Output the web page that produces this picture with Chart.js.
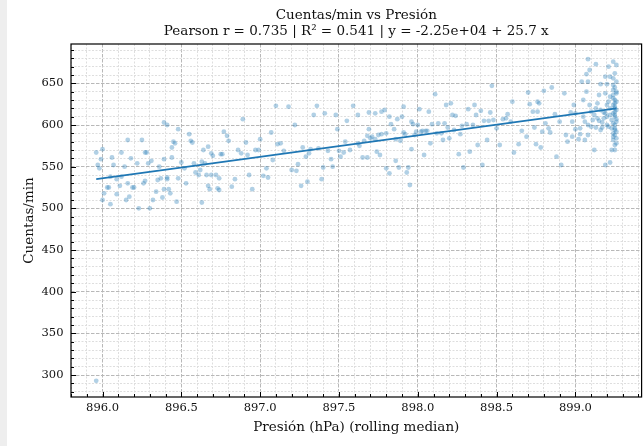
<!DOCTYPE html>
<html>
<head>
<meta charset="utf-8">
<script src="https://cdn.jsdelivr.net/npm/chart.js@4.4.1/dist/chart.umd.min.js"></script>
<style>
  html, body { margin: 0; padding: 0; background: #eeeeee; }
  #wrap { position: absolute; left: 7px; top: 0; width: 637px; height: 446px; background: #ffffff; }
</style>
</head>
<body>
<div id="wrap"><canvas id="scatterChart"></canvas></div>
<script>
// Presión (hPa, rolling median) vs Cuentas/min
const presion = [
  895.96, 895.99, 896.00, 895.97, 895.98, 896.00, 896.01, 896.03, 896.04, 896.05, 896.06, 896.05, 896.07, 896.09, 896.09, 896.11, 896.12, 896.14, 896.12, 896.15,
  896.16, 896.17, 896.16, 896.18, 896.19, 896.20, 896.22, 896.23, 896.25, 896.26, 896.27, 896.27, 896.28, 896.29, 896.31, 896.30, 896.32, 896.34, 896.35, 896.36,
  896.37, 896.39, 896.38, 896.39, 896.41, 896.39, 896.41, 896.41, 896.42, 896.43, 896.44, 896.44, 896.45, 896.46, 896.47, 896.48, 896.48, 896.50, 896.52, 896.53,
  896.55, 896.56, 896.57, 896.58, 896.59, 896.61, 896.62, 896.63, 896.64, 896.63, 896.65, 896.66, 896.67, 896.67, 896.68, 896.69, 896.70, 896.69, 896.72, 896.74,
  896.75, 896.73, 896.77, 896.74, 896.76, 896.79, 896.80, 896.82, 896.84, 896.86, 896.88, 896.89, 896.91, 896.92, 896.93, 896.95, 896.97, 896.99, 897.00,
  897.02, 897.04, 897.05, 897.07, 897.08, 897.10, 897.11, 897.13, 897.15, 897.18, 897.20, 897.22, 897.23, 897.24, 897.26, 897.27, 897.29, 897.30, 897.31, 897.32,
  897.34, 897.36, 897.37, 897.39, 897.40, 897.41, 897.43, 897.45, 897.46, 897.48, 897.49, 897.50, 897.51, 897.53, 897.54, 897.55, 897.57, 897.59, 897.62, 897.62,
  897.63, 897.65, 897.66, 897.68, 897.68, 897.69, 897.69, 897.70, 897.71, 897.73, 897.73, 897.74, 897.75, 897.76, 897.77, 897.77, 897.79, 897.80, 897.80, 897.82,
  897.82, 897.83, 897.85, 897.86, 897.86, 897.87, 897.88, 897.89, 897.90, 897.91, 897.91, 897.92, 897.93, 897.94, 897.95, 897.96, 897.96, 897.97, 897.98, 897.99,
  898.00, 898.01, 898.02, 898.03, 898.04, 898.05, 898.06, 898.07, 898.08, 898.09, 898.11, 898.12, 898.13, 898.15, 898.16, 898.17, 898.18, 898.19, 898.20, 898.21,
  898.22, 898.23, 898.24, 898.26, 898.27, 898.28, 898.29, 898.31, 898.32, 898.33, 898.35, 898.36, 898.37, 898.38, 898.40, 898.41, 898.42, 898.44, 898.45, 898.46, 898.47, 898.48,
  898.50, 898.52, 898.54, 898.56, 898.57, 898.59, 898.60, 898.61, 898.64, 898.66, 898.69, 898.70, 898.71, 898.73, 898.74, 898.75, 898.76, 898.76, 898.77, 898.78,
  898.79, 898.80, 898.81, 898.83, 898.84, 898.85, 898.87, 898.88, 898.90, 898.91, 898.93, 898.94, 898.95, 898.97, 898.98, 898.99, 899.00, 899.02, 899.03, 899.03,
  899.04, 899.05, 899.06, 899.06, 899.07, 899.07, 899.08, 899.08, 899.09, 899.08, 899.09, 899.10, 899.11, 899.12, 899.13, 899.13, 899.14, 899.15, 899.15, 899.16,
  899.16, 899.17, 899.18, 899.19, 899.19, 899.19, 899.20, 899.20, 899.20, 899.21, 899.21, 899.22, 899.22, 899.22, 899.22, 899.23, 899.23, 899.24, 899.24, 899.24,
  899.24, 899.24, 899.24, 899.25, 899.25, 899.25, 899.25, 899.25, 899.25, 899.25, 899.25, 899.26, 899.26, 899.26, 899.26,
  899.25, 899.25, 899.26, 899.24, 899.26, 899.25, 899.24, 899.26, 899.25, 899.24, 899.26, 899.25, 899.24, 899.26, 899.25, 899.24, 899.26, 899.25, 899.26, 899.24,
  899.12, 899.14, 899.17, 899.16, 899.18, 899.20, 899.19, 899.10, 899.05, 899.00, 898.98, 899.08, 899.13, 899.21, 899.23, 899.22,
  895.96
];
const cuentas = [
  567, 559, 571, 552, 548, 510, 518, 525, 525, 505, 561, 538, 552, 535, 517, 527, 567, 550, 538, 510,
  582, 514, 530, 560, 525, 525, 554, 500, 582, 530, 533, 567, 567, 554, 557, 500, 510, 520, 534, 550,
  536, 559, 513, 603, 600, 523, 537, 535, 523, 518, 561, 573, 580, 578, 508, 536, 595, 555, 548, 530,
  589, 581, 579, 554, 543, 540, 546, 507, 570, 556, 554, 540, 574, 527, 523, 566, 563, 540, 540, 536,
  565, 524, 592, 522, 565, 587, 581, 526, 535, 570, 566, 607, 579, 564, 540, 523, 570, 570, 583,
  539, 548, 537, 591, 558, 623, 577, 578, 569, 622, 546, 600, 545, 553, 527, 573, 562, 532, 566, 571,
  612, 623, 572, 535, 549, 614, 569, 559, 550, 612, 595, 569, 562, 567, 580, 605, 570, 623, 612, 578,
  575, 561, 581, 561, 587, 615, 595, 584, 586, 614, 583, 568, 588, 564, 616, 589, 618, 590, 548, 610,
  542, 601, 595, 583, 557, 607, 549, 581, 610, 591, 622, 589, 543, 549, 528, 571, 604, 601, 588, 592,
  600, 619, 592, 593, 564, 593, 593, 616, 578, 601, 637, 590, 602, 590, 582, 602, 624, 597, 584, 626,
  612, 594, 611, 565, 589, 599, 549, 601, 619, 568, 600, 624, 612, 576, 617, 552, 605, 582, 605, 615, 647, 606,
  596, 576, 607, 608, 613, 604, 628, 567, 577, 593, 586, 639, 625, 616, 597, 577, 616, 628, 626, 573,
  592, 641, 602, 596, 591, 645, 613, 562, 604, 552, 638, 588, 580, 615, 586, 624, 595, 583, 589, 596,
  652, 630, 582, 604, 640, 661, 679, 652, 666, 588, 624, 616, 606, 570, 673, 597, 626, 636, 605, 618,
  649, 597, 615, 658, 638, 552, 624, 610, 649, 670, 598, 634, 555, 620, 658, 570, 606, 586, 582, 676,
  642, 648, 632, 622, 616, 600, 594, 662, 610, 626, 588, 638, 578, 672, 604,
  570, 576, 584, 590, 592, 596, 602, 607, 612, 614, 618, 620, 624, 628, 630, 636, 640, 645, 652, 656,
  612, 608, 603, 594, 608, 600, 614, 598, 610, 614, 604, 600, 620, 628, 596, 612,
  293
];

// regression line (y = -2.25e+04 + 25.7 x) over the data range
const ajusteX = [895.96, 899.26];
const ajusteY = [535, 620];

const xTicks = [896.0, 896.5, 897.0, 897.5, 898.0, 898.5, 899.0];
const yTicks = [300, 350, 400, 450, 500, 550, 600, 650];

const xMin = 895.8, xMax = 899.42;
const yMin = 273.6, yMax = 697.2;

const xMinor = [];
for (let v = 8958; v <= 8994; v++) if (v % 5 !== 0) xMinor.push(v / 10);
const yMinor = [];
for (let v = 280; v <= 690; v += 10) if (v % 50 !== 0) yMinor.push(v);

const n = Math.min(presion.length, cuentas.length);
const puntos = [];
for (let i = 0; i < n; i++) puntos.push({ x: presion[i], y: cuentas[i] });
const linea = ajusteX.map((x, i) => ({ x: x, y: ajusteY[i] }));

const serif = "'DejaVu Serif', serif";
const textColor = "#111111";

// black frame + inward tick marks
const marcoEjes = {
  id: "marcoEjes",
  afterDraw(chart) {
    const { ctx, chartArea: a, scales } = chart;
    ctx.save();
    ctx.strokeStyle = "#000000";
    ctx.lineWidth = 1;
    ctx.beginPath();
    xTicks.forEach(v => {
      const px = Math.round(scales.x.getPixelForValue(v)) + 0.5;
      ctx.moveTo(px, a.bottom); ctx.lineTo(px, a.bottom - 5);
    });
    xMinor.forEach(v => {
      const px = Math.round(scales.x.getPixelForValue(v)) + 0.5;
      ctx.moveTo(px, a.bottom); ctx.lineTo(px, a.bottom - 3);
    });
    yTicks.forEach(v => {
      const py = Math.round(scales.y.getPixelForValue(v)) + 0.5;
      ctx.moveTo(a.left, py); ctx.lineTo(a.left + 5, py);
    });
    yMinor.forEach(v => {
      const py = Math.round(scales.y.getPixelForValue(v)) + 0.5;
      ctx.moveTo(a.left, py); ctx.lineTo(a.left + 3, py);
    });
    ctx.stroke();
    ctx.lineWidth = 1.2;
    ctx.strokeRect(a.left, a.top, a.right - a.left, a.bottom - a.top);
    ctx.restore();
  }
};

document.addEventListener("DOMContentLoaded", function () {
  const ctx = document.getElementById("scatterChart").getContext("2d");
  new Chart(ctx, {
    type: "scatter",
    data: {
      datasets: [
        {
          label: "ajuste",
          data: linea,
          showLine: true,
          borderColor: "#1f77b4",
          borderWidth: 1.6,
          pointRadius: 0,
          fill: false
        },
        {
          label: "Cuentas/min",
          data: puntos,
          backgroundColor: "rgba(31, 119, 180, 0.35)",
          borderWidth: 0,
          pointRadius: 2.4,
          pointHoverRadius: 2.4
        }
      ]
    },
    options: {
      responsive: true,
      maintainAspectRatio: false,
      animation: false,
      events: [],
      layout: { padding: { left: 0, right: 1, top: 0, bottom: 0 } },
      scales: {
        x: {
          type: "linear",
          position: "bottom",
          min: xMin,
          max: xMax,
          afterBuildTicks: s => { s.ticks = xTicks.map(v => ({ value: v })); },
          afterFit: s => { s.height = 49; },
          grid: { color: "#b8b8b8", lineWidth: 1, drawTicks: false },
          border: { display: false, dash: [3.5, 1.5] },
          ticks: {
            padding: 4.5,
            color: textColor,
            autoSkip: false,
            maxRotation: 0,
            font: { family: serif, size: 11.5 },
            callback: v => v.toFixed(1)
          },
          title: {
            display: true,
            text: "Presión (hPa) (rolling median)",
            color: textColor,
            font: { family: serif, size: 13.5 },
            padding: { top: 0, bottom: 10 }
          }
        },
        xMenor: {
          type: "linear",
          position: "bottom",
          min: xMin,
          max: xMax,
          afterBuildTicks: s => { s.ticks = xMinor.map(v => ({ value: v })); },
          afterFit: s => { s.height = 0; },
          grid: { color: "#dedede", lineWidth: 1, drawTicks: false },
          border: { display: false, dash: [2, 1.5] },
          ticks: { display: false }
        },
        y: {
          type: "linear",
          position: "left",
          min: yMin,
          max: yMax,
          afterBuildTicks: s => { s.ticks = yTicks.map(v => ({ value: v })); },
          afterFit: s => { s.width = 64; },
          grid: { color: "#b8b8b8", lineWidth: 1, drawTicks: false },
          border: { display: false, dash: [3.5, 1.5] },
          ticks: {
            padding: 7.5,
            color: textColor,
            font: { family: serif, size: 11.5 }
          },
          title: {
            display: true,
            text: "Cuentas/min",
            color: textColor,
            font: { family: serif, size: 13.5 },
            padding: { top: 14, bottom: 0 }
          }
        },
        yMenor: {
          type: "linear",
          position: "left",
          min: yMin,
          max: yMax,
          afterBuildTicks: s => { s.ticks = yMinor.map(v => ({ value: v })); },
          afterFit: s => { s.width = 0; },
          grid: { color: "#dedede", lineWidth: 1, drawTicks: false },
          border: { display: false, dash: [2, 1.5] },
          ticks: { display: false }
        }
      },
      plugins: {
        legend: { display: false },
        tooltip: { enabled: false },
        title: {
          display: true,
          fullSize: false,
          text: [
            "Cuentas/min vs Presión",
            "Pearson r = 0.735 | R² = 0.541 | y = -2.25e+04 + 25.7 x"
          ],
          color: textColor,
          font: { family: serif, size: 13.5, weight: "normal", lineHeight: 1.2 },
          padding: { top: 7, bottom: 4.6 }
        }
      }
    },
    plugins: [marcoEjes]
  });
});
</script>
</body>
</html>
